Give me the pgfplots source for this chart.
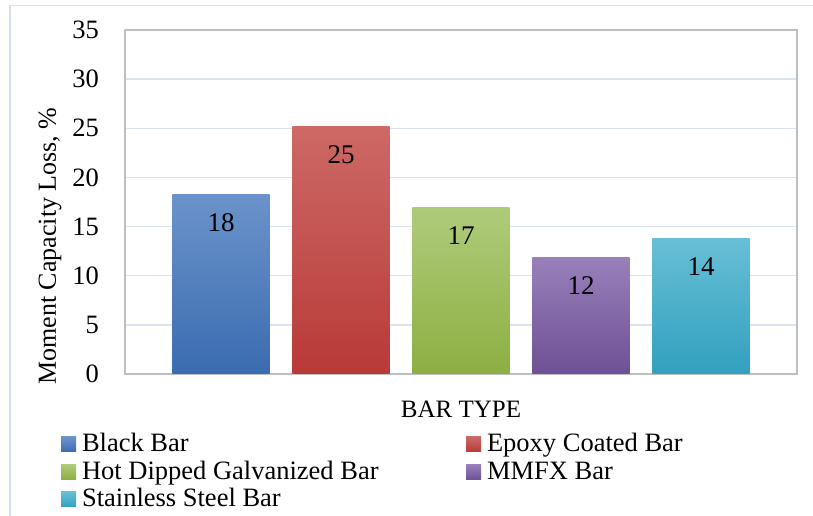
\documentclass[border=0pt]{standalone}
\usepackage{fontspec}
\setmainfont{Liberation Serif}
\usepackage{pgfplots}
\pgfplotsset{compat=1.18}
\definecolor{blueT}{HTML}{6B93CB}\definecolor{blueB}{HTML}{3A6CB0}
\definecolor{redT}{HTML}{CD6966}\definecolor{redB}{HTML}{B83A37}
\definecolor{greenT}{HTML}{AFCB7A}\definecolor{greenB}{HTML}{8CAF42}
\definecolor{purpT}{HTML}{9980BA}\definecolor{purpB}{HTML}{6E5096}
\definecolor{aquaT}{HTML}{67BFD6}\definecolor{aquaB}{HTML}{32A0BE}
\definecolor{gridc}{HTML}{D9E3F1}
\definecolor{axisc}{HTML}{BFBFBF}
\definecolor{borderc}{HTML}{D6E0EF}
\newcommand{\fs}[1]{\fontsize{#1}{#1}\selectfont}
\pgfplotsset{mybar/.style={ybar, bar width=0.81, bar shift=0pt, draw=none,
  legend image code/.code={\fill[##1] (0bp,0bp) rectangle (15bp,15bp);}}}
\begin{document}
\begin{tikzpicture}
\useasboundingbox (0,0) rectangle (813bp,516bp);
\draw[color=borderc, line width=1.5bp] (10bp,0) -- (10bp,510.3bp) -- (813bp,510.3bp);
\begin{axis}[
  at={(125bp,142bp)}, anchor=south west,
  scale only axis, width=672bp, height=344bp,
  xmin=-0.8, xmax=4.8, ymin=0, ymax=35,
  ytick={0,5,...,35}, xtick=\empty,
  ymajorgrids, grid style={color=gridc, line width=1.5bp},
  axis line style={color=axisc, line width=2bp},
  major tick length=0pt, ytick style={draw=none},
  /pgf/number format/assume math mode=true,
  yticklabel style={anchor=east, inner sep=0pt, xshift=-26bp, font=\fs{26.5bp}},
  xlabel={BAR TYPE}, ylabel={Moment Capacity Loss, \%},
  every axis x label/.style={at={(axis description cs:0.5,-0.125)}, anchor=base, font=\fs{25bp}},
  every axis y label/.style={at={(axis description cs:-0.1027,0.372)}, rotate=90, anchor=base, font=\fs{26bp}},
  nodes near coords={\pgfmathprintnumber[fixed,precision=0]{\pgfplotspointmeta}},
  every node near coord/.append style={anchor=north, yshift=-19bp, inner sep=0pt, font=\fs{27bp}, text=black},
  legend columns=2,
  legend style={at={(-0.0952,-0.1744)}, anchor=north west, draw=none, fill=none,
    inner sep=0pt, outer sep=0pt, row sep=0pt, column sep=0pt, font=\fs{26.5bp},
    nodes={inner sep=0pt, outer sep=0pt, text height=18bp, text depth=9.5bp},
    cells={anchor=base west},
    /tikz/every odd column/.append style={column sep=6bp}},
]
\addplot[mybar, top color=blueT, bottom color=blueB] coordinates {(0,18.3)};
\addlegendentry{\makebox[384bp][l]{Black Bar}}
\addplot[mybar, top color=redT, bottom color=redB] coordinates {(1,25.2)};
\addlegendentry{Epoxy Coated Bar}
\addplot[mybar, top color=greenT, bottom color=greenB] coordinates {(2,16.9)};
\addlegendentry{\makebox[384bp][l]{Hot Dipped Galvanized Bar}}
\addplot[mybar, top color=purpT, bottom color=purpB] coordinates {(3,11.9)};
\addlegendentry{MMFX Bar}
\addplot[mybar, top color=aquaT, bottom color=aquaB] coordinates {(4,13.8)};
\addlegendentry{\makebox[384bp][l]{Stainless Steel Bar}}
\end{axis}
\end{tikzpicture}
\end{document}
